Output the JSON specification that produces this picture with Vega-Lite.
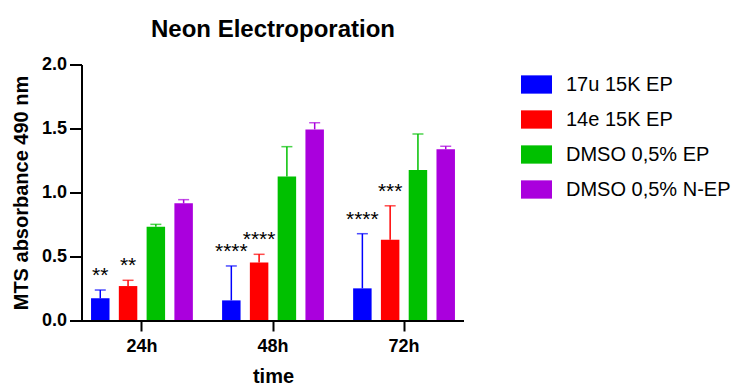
{
  "$schema": "https://vega.github.io/schema/vega-lite/v6.json",
  "width": 394,
  "height": 256,
  "autosize": {"type": "none"},
  "padding": {"left": 70, "top": 65, "right": 272, "bottom": 66},
  "background": "white",
  "title": {"text": "Neon Electroporation", "fontSize": 24, "font": "Liberation Sans", "fontWeight": "bold", "color": "black", "anchor": "middle", "dx": 6, "offset": 14},
  "config": {
    "view": {"stroke": null},
    "font": "Liberation Sans",
    "axis": {"grid": false, "labelColor": "black", "titleColor": "black", "tickColor": "black", "domainColor": "black", "labelFont": "Liberation Sans", "titleFont": "Liberation Sans"},
    "axisX": {"labelAngle": 0, "domain": false, "tickSize": 10, "tickWidth": 2, "labelFontSize": 18, "labelFontWeight": "bold", "labelPadding": 6, "titleFontSize": 20, "titleFontWeight": "bold", "titlePadding": 11},
    "axisY": {"offset": -12, "translate": 0, "domainWidth": 2, "tickSize": 12, "tickWidth": 2, "labelFontSize": 18, "labelFontWeight": "bold", "labelPadding": 3, "titleFontSize": 20, "titleFontWeight": "bold", "titlePadding": 10}
  },
  "data": {
    "values": [
      {"time": "24h", "group": "17u 15K EP", "value": 0.177, "upper": 0.242, "sig": "**"},
      {"time": "24h", "group": "14e 15K EP", "value": 0.273, "upper": 0.318, "sig": "**"},
      {"time": "24h", "group": "DMSO 0,5% EP", "value": 0.737, "upper": 0.755, "sig": ""},
      {"time": "24h", "group": "DMSO 0,5% N-EP", "value": 0.919, "upper": 0.948, "sig": ""},
      {"time": "48h", "group": "17u 15K EP", "value": 0.161, "upper": 0.43, "sig": "****"},
      {"time": "48h", "group": "14e 15K EP", "value": 0.458, "upper": 0.521, "sig": "****"},
      {"time": "48h", "group": "DMSO 0,5% EP", "value": 1.128, "upper": 1.362, "sig": ""},
      {"time": "48h", "group": "DMSO 0,5% N-EP", "value": 1.497, "upper": 1.549, "sig": ""},
      {"time": "72h", "group": "17u 15K EP", "value": 0.255, "upper": 0.682, "sig": "****"},
      {"time": "72h", "group": "14e 15K EP", "value": 0.635, "upper": 0.9, "sig": "***"},
      {"time": "72h", "group": "DMSO 0,5% EP", "value": 1.18, "upper": 1.461, "sig": ""},
      {"time": "72h", "group": "DMSO 0,5% N-EP", "value": 1.341, "upper": 1.365, "sig": ""}
    ]
  },
  "layer": [
    {
      "mark": {"type": "bar"},
      "encoding": {
        "x": {"field": "time", "type": "nominal", "title": "time", "scale": {"range": [12, 394], "paddingInner": 0.1, "paddingOuter": 0.0075}},
        "xOffset": {"field": "group", "type": "nominal", "sort": ["17u 15K EP", "14e 15K EP", "DMSO 0,5% EP", "DMSO 0,5% N-EP"], "scale": {"paddingInner": 0.335, "paddingOuter": 0.29}},
        "y": {"field": "value", "type": "quantitative", "title": "MTS absorbance 490 nm", "scale": {"domain": [0, 2], "nice": false},
              "axis": {"values": [0, 0.5, 1, 1.5, 2], "format": ".1f"}},
        "color": {"field": "group", "type": "nominal", "sort": ["17u 15K EP", "14e 15K EP", "DMSO 0,5% EP", "DMSO 0,5% N-EP"],
                  "scale": {"domain": ["17u 15K EP", "14e 15K EP", "DMSO 0,5% EP", "DMSO 0,5% N-EP"], "range": ["#0000FF", "#FF0000", "#00C000", "#AA00DD"]},
                  "legend": {"orient": "none", "legendX": 451, "legendY": 4, "title": null, "symbolType": "M-1,-0.59H1V0.59H-1Z", "symbolSize": 961, "symbolStrokeWidth": 0, "symbolOpacity": 1, "labelFontSize": 20, "labelFont": "Liberation Sans", "labelColor": "black", "labelOffset": 14, "labelLimit": 400, "rowPadding": 9, "padding": 0}}
      }
    },
    {
      "mark": {"type": "rule", "strokeWidth": 1.5},
      "encoding": {
        "x": {"field": "time", "type": "nominal", "title": "time"},
        "xOffset": {"field": "group", "type": "nominal", "sort": ["17u 15K EP", "14e 15K EP", "DMSO 0,5% EP", "DMSO 0,5% N-EP"]},
        "y": {"field": "value", "type": "quantitative", "title": "MTS absorbance 490 nm"},
        "y2": {"field": "upper"},
        "color": {"field": "group", "type": "nominal", "legend": null}
      }
    },
    {
      "mark": {"type": "tick", "thickness": 1.5, "size": 11},
      "encoding": {
        "x": {"field": "time", "type": "nominal", "title": "time"},
        "xOffset": {"field": "group", "type": "nominal", "sort": ["17u 15K EP", "14e 15K EP", "DMSO 0,5% EP", "DMSO 0,5% N-EP"]},
        "y": {"field": "upper", "type": "quantitative", "title": "MTS absorbance 490 nm"},
        "color": {"field": "group", "type": "nominal", "legend": null}
      }
    },
    {
      "mark": {"type": "text", "fontSize": 21, "dy": -8, "baseline": "alphabetic", "align": "center", "color": "black", "font": "Liberation Sans"},
      "encoding": {
        "x": {"field": "time", "type": "nominal", "title": "time"},
        "xOffset": {"field": "group", "type": "nominal", "sort": ["17u 15K EP", "14e 15K EP", "DMSO 0,5% EP", "DMSO 0,5% N-EP"]},
        "y": {"field": "upper", "type": "quantitative", "title": "MTS absorbance 490 nm"},
        "text": {"field": "sig"}
      }
    },
    {
      "data": {"values": [{"base": 0}]},
      "mark": {"type": "rule", "strokeWidth": 2, "color": "black"},
      "encoding": {
        "y": {"field": "base", "type": "quantitative", "title": "MTS absorbance 490 nm"}
      }
    }
  ]
}
